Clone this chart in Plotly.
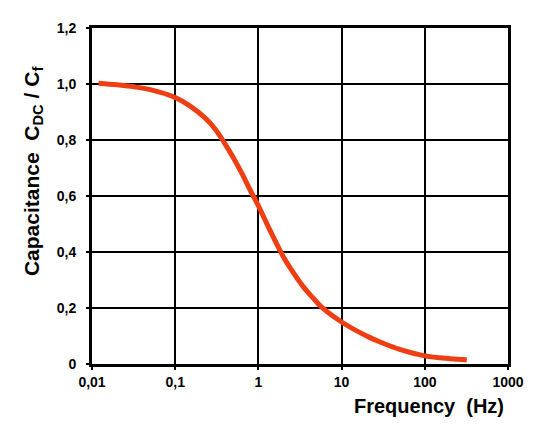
import plotly.graph_objects as go

# Data
freq = [0.012, 0.02, 0.032, 0.05, 0.1, 0.15, 0.23, 0.3, 0.39, 0.5, 0.64, 0.8,
        1.0, 1.37, 1.97, 2.5, 3.4, 4.5, 5.8, 10, 20, 31.6, 50, 100, 200, 320]
cap = [1.003, 0.997, 0.99, 0.98, 0.952, 0.922, 0.878, 0.84, 0.79, 0.737, 0.678, 0.62,
       0.565, 0.479, 0.386, 0.336, 0.279, 0.237, 0.202, 0.15, 0.1, 0.074, 0.052, 0.029, 0.019, 0.015]

x_ticks = [0.01, 0.1, 1, 10, 100, 1000]
x_labels = ['0,01', '0,1', '1', '10', '100', '1000']
y_ticks = [0, 0.2, 0.4, 0.6, 0.8, 1.0, 1.2]
y_labels = ['0', '0,2', '0,4', '0,6', '0,8', '1,0', '1,2']

font_family = 'Liberation Sans, Arial, sans-serif'

fig = go.Figure()
fig.add_trace(go.Scatter(x=freq, y=cap, mode='lines',
                         line=dict(color='#EE3F14', width=5, shape='spline', smoothing=1.0),
                         showlegend=False))

# page body has an 8px margin, so the figure is shrunk/shifted to compensate
fig.update_layout(
    width=532, height=421,
    margin=dict(l=84, r=32, t=13, b=65),
    paper_bgcolor='white', plot_bgcolor='white',
    font=dict(family=font_family, color='black'),
    xaxis=dict(type='log', range=[-2, 3], tickvals=x_ticks, ticktext=x_labels,
               showgrid=True, gridcolor='black', gridwidth=1.5,
               showline=True, linecolor='black', linewidth=3, mirror=True,
               ticks='outside', ticklen=3, tickwidth=1.5, tickcolor='black', zeroline=False,
               tickfont=dict(size=14, weight='bold', family=font_family)),
    yaxis=dict(range=[0, 1.2], tickvals=y_ticks, ticktext=y_labels,
               showgrid=True, gridcolor='black', gridwidth=1.5,
               showline=True, linecolor='black', linewidth=3, mirror=True,
               ticks='outside', ticklen=3, tickwidth=1.5, tickcolor='black', zeroline=False,
               ticklabelstandoff=7,
               tickfont=dict(size=14, weight='bold', family=font_family)),
    annotations=[
        dict(text='Frequency  (Hz)', xref='paper', yref='paper', x=0.995, y=-0.125,
             xanchor='right', yanchor='middle', showarrow=False,
             font=dict(size=20, weight='bold', family=font_family)),
        dict(text='Capacitance  C<sub>DC</sub> / C<sub>f</sub>', xref='paper', yref='paper',
             x=-0.142, y=0.574, xanchor='center', yanchor='middle', textangle=-90,
             showarrow=False, font=dict(size=21, weight='bold', family=font_family)),
    ],
)

fig.write_html("out.html")
